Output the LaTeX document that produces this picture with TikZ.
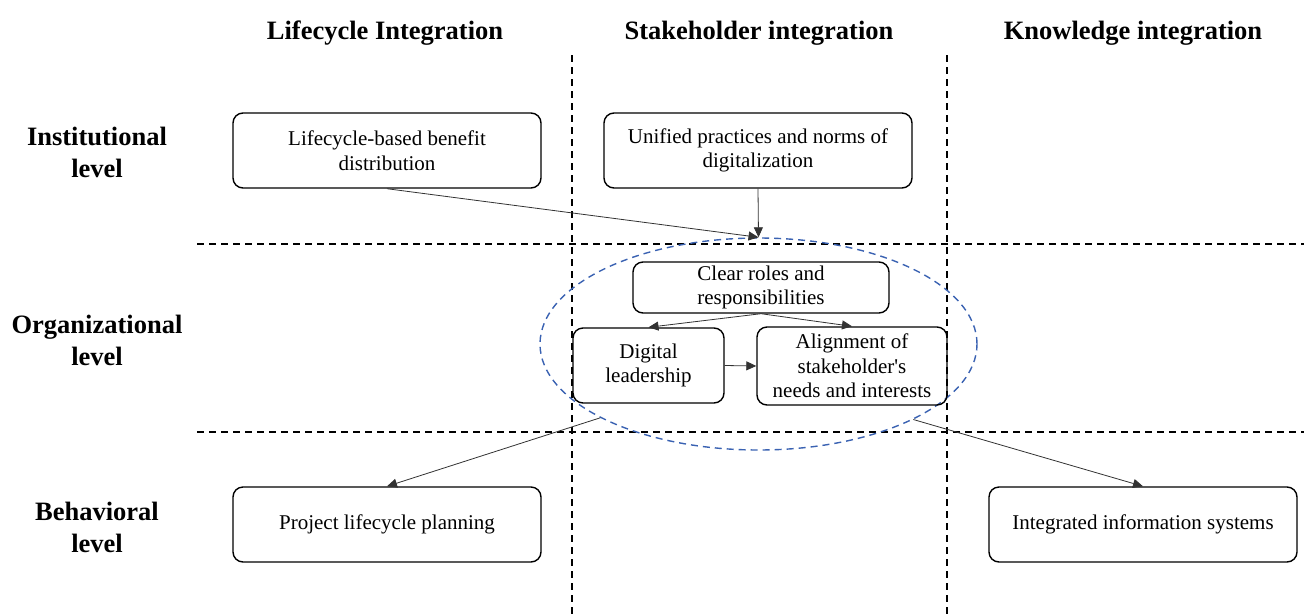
\documentclass[tikz,border=0pt]{standalone}
\usepackage{fontspec}
\setmainfont{Liberation Serif}
\usetikzlibrary{arrows.meta,shapes.geometric}
\definecolor{ellblue}{RGB}{58,98,178}
\definecolor{linkgray}{RGB}{50,50,50}
\begin{document}
\begin{tikzpicture}[x=1pt,y=-1pt,
  box/.style={draw=black, line width=1.4pt, rounded corners=10pt, align=center,
    font=\fontsize{21}{24.5}\selectfont, inner sep=0pt},
  heading/.style={font=\bfseries\fontsize{26.5}{32}\selectfont, anchor=base},
  rowlabel/.style={font=\bfseries\fontsize{26.5}{32}\selectfont, align=center},
  gridline/.style={line width=1.3pt, dash pattern=on 7pt off 5pt},
  link/.style={draw=linkgray, line width=0.8pt, -{Triangle[length=10pt,width=9pt]}},
  zone/.style={ellipse, draw=ellblue, line width=1.4pt, dash pattern=on 7pt off 5pt, inner sep=0pt}
]
\useasboundingbox (0,0) rectangle (1304,614);

% column and row separators
\draw[gridline] (572,55) -- (572,614);
\draw[gridline] (947,55) -- (947,614);
\draw[gridline] (197,244) -- (1304,244);
\draw[gridline] (197,432) -- (1304,432);

% column headings
\node[heading] (h1) at (385,39) {Lifecycle Integration};
\node[heading] (h2) at (759,39) {Stakeholder integration};
\node[heading] (h3) at (1133,39) {Knowledge integration};

% row labels
\node[rowlabel] (r1) at (97,152) {Institutional\\level};
\node[rowlabel] (r2) at (97,340) {Organizational\\level};
\node[rowlabel] (r3) at (97,527) {Behavioral\\level};

% organizational cluster
\node[zone, minimum width=437pt, minimum height=212pt] (ell) at (758.5,344) {};

% boxes
\node[box, minimum width=308pt, minimum height=75pt] (A) at (387,150.5) {Lifecycle-based benefit\\distribution};
\node[box, minimum width=308pt, minimum height=75pt] (B) at (758,150.5) {Unified practices and norms of\\digitalization};
\node[box, minimum width=256pt, minimum height=51pt] (C) at (761,287.5) {Clear roles and\\responsibilities};
\node[box, minimum width=151pt, minimum height=75pt] (D) at (648.5,365.5) {Digital\\leadership};
\node[box, minimum width=190pt, minimum height=78pt] (E) at (852,366) {Alignment of\\stakeholder\textquotesingle s\\needs and interests};
\node[box, minimum width=308pt, minimum height=75pt] (F) at (387,524.5) {Project lifecycle planning};
\node[box, minimum width=308pt, minimum height=75pt] (G) at (1143,524.5) {Integrated information systems};

% connectors
\draw[link] (A.south) -- (ell.north);
\draw[link] (B.south) -- (ell.north);
\draw[link] (C.south) -- (D.north);
\draw[link] (C.south) -- (E.north);
\draw[link] (D.east) -- (E.west);
\draw[link] (ell.205.8) -- (F.north);
\draw[link] (ell.334.4) -- (G.north);
\end{tikzpicture}
\end{document}
